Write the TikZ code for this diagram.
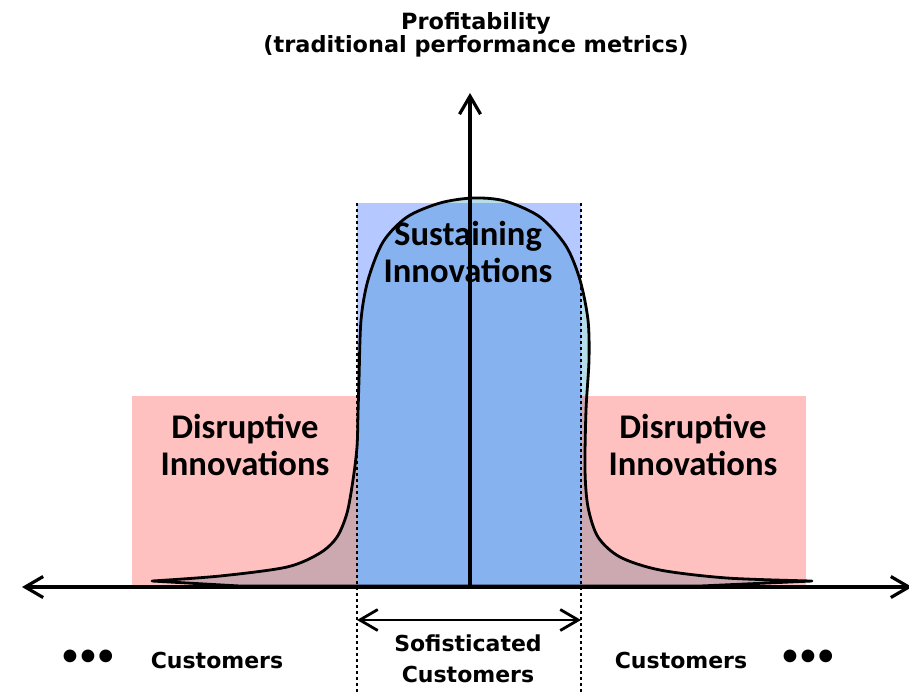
\documentclass[tikz,border=0pt]{standalone}
\usepackage{fontspec}
\usetikzlibrary{arrows.meta}
\newfontfamily\calfont{Carlito}
\newfontfamily\tahfont{DejaVu Sans}
\definecolor{humpfill}{HTML}{B7DEE8}
\definecolor{disrupt}{HTML}{FF3030}
\definecolor{sustain}{HTML}{3366FF}
\begin{document}
\begin{tikzpicture}[x=0.5pt, y=-0.5pt, line join=round, line cap=round, >={Straight Barb[length=9pt,width=10.5pt]},
	biglabel/.style={font=\calfont\bfseries\fontsize{17.3}{18.5}\selectfont, align=center, inner sep=0pt},
	smalllabel/.style={font=\tahfont\bfseries\fontsize{11}{15.5}\selectfont, align=center, inner sep=0pt},
	dotlabel/.style={font=\calfont\fontsize{18}{18}\selectfont, inner sep=0pt},
	axisline/.style={line width=1.6pt}]
	\useasboundingbox (0,0) rectangle (909,693);
	\def\xl{357} \def\xr{581} % Sofisticated band
	\def\yax{587} \def\ytop{203} \def\yred{396}
	% hump
	\fill[humpfill] plot[smooth] coordinates {(152,581) (220,576) (287,567) (320,553) (337,537) (347,513) (353,480) (357,447) (358,413) (359,380) (361,320) (368,280) (383,242) (407,217) (440,203) (473,198) (505,201) (540,217) (566,246) (580,280) (588,320) (589,360) (586,410) (585,470) (588,507) (598,537) (620,557) (660,570) (727,578) (812,581)} -- (700,586) -- (240,586) -- cycle;
	% regions
	\fill[disrupt, opacity=.3] (132,\yred) rectangle (\xl,\yax);
	\fill[disrupt, opacity=.3] (\xr,\yred) rectangle (806,\yax);
	\fill[sustain, opacity=.36] (\xl,\ytop) rectangle (\xr,\yax);
	\draw[line width=1.4pt] plot[smooth] coordinates {(152,581) (220,576) (287,567) (320,553) (337,537) (347,513) (353,480) (357,447) (358,413) (359,380) (361,320) (368,280) (383,242) (407,217) (440,203) (473,198) (505,201) (540,217) (566,246) (580,280) (588,320) (589,360) (586,410) (585,470) (588,507) (598,537) (620,557) (660,570) (727,578) (812,581)} -- (700,586) -- (240,586) -- cycle;
	\draw[line width=1.3pt, dash pattern=on 1.3pt off 1.7pt, line cap=butt] (\xl,\ytop) -- (\xl,693) (\xr,\ytop) -- (\xr,693);
	% axes
	\coordinate (xa) at (22,\yax); \coordinate (xb) at (912,\yax);
	\coordinate (O) at (470,\yax); \coordinate (ya) at (470,93);
	\draw[axisline, <->] (xa) -- (xb);
	\draw[axisline, ->] (O) -- (ya);
	\coordinate (sl) at (\xl,620); \coordinate (sr) at (\xr,620);
	\draw[line width=1.4pt, <->] (sl) -- (sr);
	% labels
	\node[smalllabel, font=\tahfont\bfseries\fontsize{11.2}{11.8}\selectfont] (profit) at (476,35) {Profitability\\(traditional performance metrics)};
	\node[biglabel] (sustlab) at (468,252) {Sustaining\\Innovations};
	\node[biglabel] (displeft) at (245,445) {Disruptive\\Innovations};
	\node[biglabel] (dispright) at (693,445) {Disruptive\\Innovations};
	\node[smalllabel] (sofist) at (468,659) {Sofisticated\\Customers};
	\node[smalllabel] (custleft) at (217,660) {Customers};
	\node[smalllabel] (custright) at (681,660) {Customers};
	\node[dotlabel] (dotsleft) at (88,658) {•••};
	\node[dotlabel] (dotsright) at (808,658) {•••};
\end{tikzpicture}
\end{document}
